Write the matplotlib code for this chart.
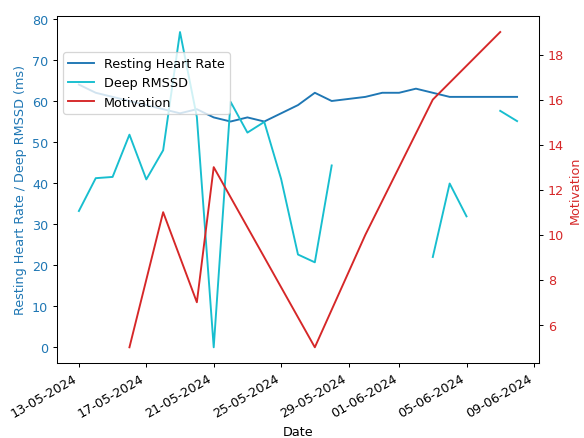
import numpy as np
import pandas as pd
import matplotlib
matplotlib.use("Agg")
import matplotlib.pyplot as plt
import matplotlib.dates as mdates

nan = np.nan

# daily readings, 13 May -> 8 June 2024
dates = pd.date_range("2024-05-13", "2024-06-08", freq="D")
resting_hr = [64, 62, 61, 60, 59, 58, 57, 58, 56, 55, 56, 55, 57, 59, 62, 60,
              60.5, 61, 62, 62, 63, 62, 61, 61, 61, 61, 61]
deep_rmssd = [33.2, 41.2, 41.5, 51.8, 40.9, 48.0, 76.8, 56.1, 0.0, 59.8, 52.3,
              54.9, 41.0, 22.6, 20.7, 44.3, nan, nan, nan, nan, nan, 22.0,
              39.9, 31.9, nan, 57.6, 55.1]

# motivation only logged on some days
motivation_dates = pd.to_datetime(["2024-05-16", "2024-05-18", "2024-05-20", "2024-05-21",
                                   "2024-05-27", "2024-05-30", "2024-06-03", "2024-06-07"])
motivation = [5, 11, 7, 13, 5, 10, 16, 19]

fig, ax1 = plt.subplots(figsize=(6.4, 4.8), dpi=91.4)

l1, = ax1.plot(dates, resting_hr, color="tab:blue", label="Resting Heart Rate")
l2, = ax1.plot(dates, deep_rmssd, color="tab:cyan", label="Deep RMSSD")
ax1.set_xlabel("Date")
ax1.set_ylabel("Resting Heart Rate / Deep RMSSD (ms)", color="tab:blue")
ax1.tick_params(axis="y", labelcolor="tab:blue")

ax2 = ax1.twinx()
l3, = ax2.plot(motivation_dates, motivation, color="tab:red", label="Motivation")
ax2.set_ylabel("Motivation", color="tab:red")
ax2.tick_params(axis="y", labelcolor="tab:red")

ax1.xaxis.set_major_formatter(mdates.DateFormatter("%d-%m-%Y"))
fig.autofmt_xdate()
# autofmt_xdate resets the bottom margin, so set the margins afterwards
fig.subplots_adjust(left=0.0974, right=0.9214, top=0.9613, bottom=0.1708)

handles = [l1, l2, l3]
ax1.legend(handles, [h.get_label() for h in handles],
           loc="upper left", bbox_to_anchor=(0, 0.915))

fig.savefig("out.png", dpi=91.4)
